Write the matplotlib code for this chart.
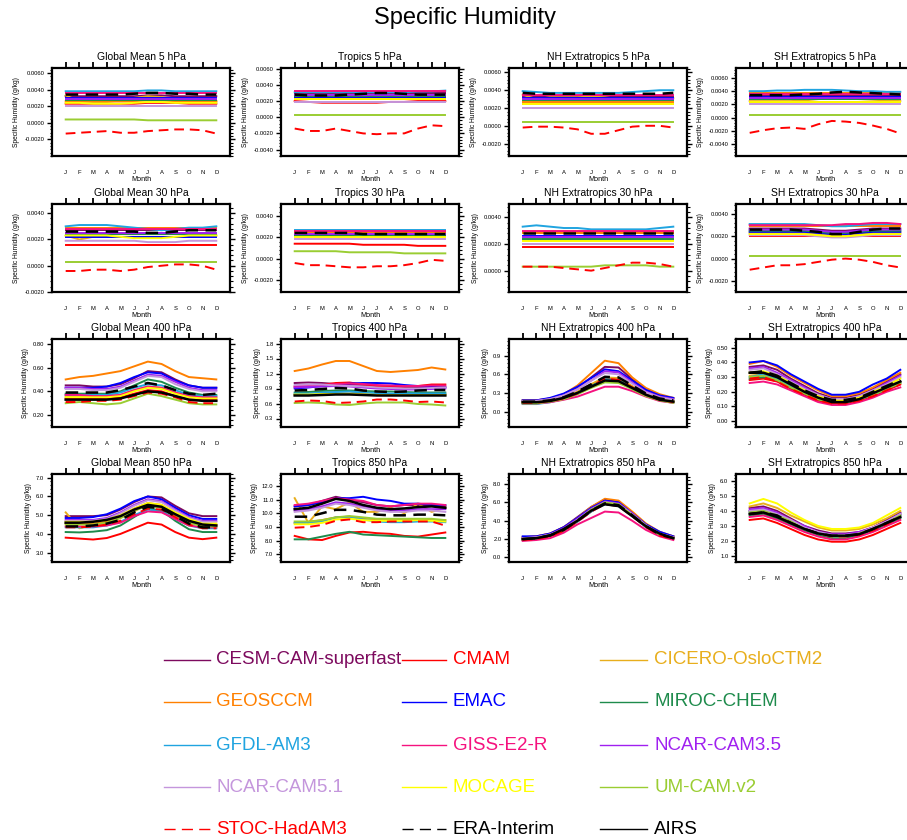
import numpy as np
import matplotlib
matplotlib.use('Agg')
import matplotlib.pyplot as plt
from matplotlib.lines import Line2D
from matplotlib.ticker import AutoMinorLocator, FormatStrFormatter

plt.rcParams['font.family'] = ['Liberation Sans', 'DejaVu Sans']
plt.rcParams['axes.unicode_minus'] = False

months = ['J', 'F', 'M', 'A', 'M', 'J', 'J', 'A', 'S', 'O', 'N', 'D']

names = ['CESM-CAM-superfast', 'CMAM', 'CICERO-OsloCTM2', 'GEOSCCM', 'EMAC', 'MIROC-CHEM',
         'GFDL-AM3', 'GISS-E2-R', 'NCAR-CAM3.5', 'NCAR-CAM5.1', 'MOCAGE', 'UM-CAM.v2',
         'STOC-HadAM3', 'ERA-Interim', 'AIRS']
keys = ['CESM', 'CMAM', 'CICERO', 'GEOS', 'EMAC', 'MIROC', 'GFDL', 'GISS',
        'CAM35', 'CAM51', 'MOCAGE', 'UM', 'STOC', 'ERA', 'AIRS']

# ---------------- 5 hPa ----------------
gm5 = {
    'CESM':   [0.0032, 0.0032, 0.0032, 0.0032, 0.0032, 0.0032, 0.0033, 0.0033, 0.0032, 0.0032, 0.0032, 0.0032],
    'CMAM':   [0.0023, 0.0023, 0.0023, 0.0023, 0.0023, 0.0023, 0.0024, 0.0024, 0.0024, 0.0023, 0.0023, 0.0023],
    'CICERO': [0.0033, 0.0026, 0.0025, 0.0025, 0.0027, 0.0030, 0.0032, 0.0031, 0.0028, 0.0026, 0.0026, 0.0026],
    'GEOS':   [0.0026, 0.0026, 0.0026, 0.0026, 0.0026, 0.0026, 0.0027, 0.0027, 0.0026, 0.0026, 0.0026, 0.0026],
    'EMAC':   [0.0030, 0.0030, 0.0030, 0.0030, 0.0030, 0.0030, 0.0030, 0.0030, 0.0030, 0.0030, 0.0030, 0.0030],
    'MIROC':  [0.0028, 0.0028, 0.0028, 0.0028, 0.0028, 0.0028, 0.0028, 0.0028, 0.0028, 0.0028, 0.0028, 0.0028],
    'GFDL':   [0.0038, 0.0038, 0.0038, 0.0038, 0.0038, 0.0038, 0.0039, 0.0039, 0.0038, 0.0038, 0.0038, 0.0038],
    'GISS':   [0.0036, 0.0036, 0.0036, 0.0036, 0.0036, 0.0036, 0.0036, 0.0036, 0.0036, 0.0036, 0.0036, 0.0036],
    'CAM35':  [0.0029, 0.0029, 0.0029, 0.0029, 0.0029, 0.0029, 0.0029, 0.0029, 0.0029, 0.0029, 0.0029, 0.0029],
    'CAM51':  [0.0020, 0.0020, 0.0020, 0.0020, 0.0020, 0.0020, 0.0020, 0.0020, 0.0020, 0.0020, 0.0020, 0.0020],
    'MOCAGE': [0.0024, 0.0024, 0.0023, 0.0023, 0.0023, 0.0024, 0.0025, 0.0025, 0.0024, 0.0024, 0.0024, 0.0024],
    'UM':     [0.0004, 0.0004, 0.0004, 0.0004, 0.0004, 0.0004, 0.0003, 0.0003, 0.0003, 0.0003, 0.0003, 0.0003],
    'STOC':   [-0.0013, -0.0012, -0.0011, -0.0010, -0.0012, -0.0012, -0.0010, -0.0009, -0.0008, -0.0008, -0.0009, -0.0013],
    'ERA':    [0.0034, 0.0034, 0.0034, 0.0034, 0.0034, 0.0035, 0.0036, 0.0036, 0.0035, 0.0035, 0.0034, 0.0034],
    'AIRS':   None,
}
tr5 = {
    'CESM':   [0.0030, 0.0030, 0.0030, 0.0030, 0.0030, 0.0030, 0.0030, 0.0030, 0.0030, 0.0030, 0.0030, 0.0030],
    'CMAM':   [0.0020, 0.0019, 0.0018, 0.0018, 0.0018, 0.0018, 0.0018, 0.0019, 0.0019, 0.0020, 0.0020, 0.0020],
    'CICERO': [0.0023, 0.0023, 0.0023, 0.0023, 0.0023, 0.0023, 0.0023, 0.0023, 0.0023, 0.0023, 0.0023, 0.0023],
    'GEOS':   [0.0024, 0.0024, 0.0024, 0.0024, 0.0024, 0.0024, 0.0024, 0.0024, 0.0024, 0.0024, 0.0024, 0.0024],
    'EMAC':   [0.0025, 0.0025, 0.0025, 0.0025, 0.0025, 0.0025, 0.0025, 0.0025, 0.0025, 0.0025, 0.0025, 0.0025],
    'MIROC':  [0.0026, 0.0026, 0.0026, 0.0026, 0.0026, 0.0026, 0.0026, 0.0026, 0.0026, 0.0026, 0.0026, 0.0026],
    'GFDL':   [0.0031, 0.0031, 0.0031, 0.0031, 0.0031, 0.0031, 0.0031, 0.0031, 0.0031, 0.0032, 0.0032, 0.0033],
    'GISS':   [0.0032, 0.0032, 0.0032, 0.0032, 0.0032, 0.0032, 0.0032, 0.0032, 0.0032, 0.0032, 0.0032, 0.0032],
    'CAM35':  [0.0027, 0.0027, 0.0027, 0.0027, 0.0027, 0.0027, 0.0027, 0.0027, 0.0027, 0.0027, 0.0027, 0.0027],
    'CAM51':  [0.0019, 0.0019, 0.0019, 0.0019, 0.0019, 0.0019, 0.0019, 0.0019, 0.0019, 0.0019, 0.0019, 0.0019],
    'MOCAGE': [0.0022, 0.0022, 0.0022, 0.0022, 0.0022, 0.0022, 0.0022, 0.0022, 0.0022, 0.0022, 0.0022, 0.0022],
    'UM':     [0.0003, 0.0003, 0.0003, 0.0003, 0.0003, 0.0003, 0.0003, 0.0003, 0.0003, 0.0003, 0.0003, 0.0003],
    'STOC':   [-0.0014, -0.0017, -0.0017, -0.0014, -0.0017, -0.0020, -0.0021, -0.0020, -0.0020, -0.0014, -0.0010, -0.0011],
    'ERA':    [0.0028, 0.0027, 0.0027, 0.0027, 0.0028, 0.0029, 0.0030, 0.0030, 0.0029, 0.0028, 0.0028, 0.0028],
    'AIRS':   None,
}
nh5 = {
    'CESM':   [0.0033, 0.0033, 0.0033, 0.0033, 0.0033, 0.0033, 0.0033, 0.0033, 0.0033, 0.0033, 0.0033, 0.0033],
    'CMAM':   [0.0024, 0.0024, 0.0024, 0.0024, 0.0024, 0.0024, 0.0024, 0.0024, 0.0024, 0.0024, 0.0024, 0.0024],
    'CICERO': [0.0035, 0.0030, 0.0032, 0.0032, 0.0032, 0.0033, 0.0032, 0.0030, 0.0030, 0.0031, 0.0031, 0.0031],
    'GEOS':   [0.0027, 0.0027, 0.0027, 0.0027, 0.0027, 0.0027, 0.0027, 0.0027, 0.0027, 0.0027, 0.0027, 0.0027],
    'EMAC':   [0.0031, 0.0031, 0.0031, 0.0031, 0.0031, 0.0031, 0.0031, 0.0031, 0.0031, 0.0031, 0.0031, 0.0031],
    'MIROC':  [0.0029, 0.0029, 0.0029, 0.0029, 0.0029, 0.0029, 0.0029, 0.0029, 0.0029, 0.0029, 0.0029, 0.0029],
    'GFDL':   [0.0039, 0.0038, 0.0037, 0.0037, 0.0037, 0.0037, 0.0037, 0.0037, 0.0038, 0.0039, 0.0040, 0.0040],
    'GISS':   [0.0035, 0.0035, 0.0035, 0.0035, 0.0035, 0.0035, 0.0035, 0.0035, 0.0035, 0.0035, 0.0035, 0.0035],
    'CAM35':  [0.0030, 0.0030, 0.0030, 0.0030, 0.0030, 0.0030, 0.0030, 0.0030, 0.0030, 0.0030, 0.0030, 0.0030],
    'CAM51':  [0.0020, 0.0020, 0.0020, 0.0020, 0.0020, 0.0020, 0.0020, 0.0020, 0.0020, 0.0020, 0.0020, 0.0020],
    'MOCAGE': [0.0025, 0.0025, 0.0025, 0.0025, 0.0025, 0.0025, 0.0025, 0.0025, 0.0025, 0.0025, 0.0025, 0.0025],
    'UM':     [0.0004, 0.0004, 0.0004, 0.0004, 0.0004, 0.0004, 0.0004, 0.0004, 0.0004, 0.0004, 0.0004, 0.0004],
    'STOC':   [-0.0002, -0.0001, -0.0001, -0.0002, -0.0004, -0.0009, -0.0009, -0.0005, -0.0001, 0.0000, 0.0000, -0.0002],
    'ERA':    [0.0037, 0.0036, 0.0036, 0.0036, 0.0036, 0.0036, 0.0036, 0.0036, 0.0036, 0.0036, 0.0036, 0.0037],
    'AIRS':   None,
}
sh5 = {
    'CESM':   [0.0032, 0.0032, 0.0032, 0.0032, 0.0032, 0.0032, 0.0032, 0.0032, 0.0032, 0.0032, 0.0032, 0.0032],
    'CMAM':   [0.0023, 0.0023, 0.0023, 0.0023, 0.0023, 0.0023, 0.0023, 0.0023, 0.0023, 0.0023, 0.0023, 0.0023],
    'CICERO': [0.0025, 0.0025, 0.0025, 0.0025, 0.0026, 0.0028, 0.0029, 0.0029, 0.0028, 0.0027, 0.0026, 0.0025],
    'GEOS':   [0.0037, 0.0037, 0.0037, 0.0037, 0.0037, 0.0037, 0.0037, 0.0037, 0.0037, 0.0037, 0.0037, 0.0037],
    'EMAC':   [0.0031, 0.0031, 0.0031, 0.0031, 0.0031, 0.0031, 0.0031, 0.0031, 0.0031, 0.0031, 0.0031, 0.0031],
    'MIROC':  [0.0028, 0.0028, 0.0028, 0.0028, 0.0028, 0.0028, 0.0028, 0.0028, 0.0028, 0.0028, 0.0028, 0.0028],
    'GFDL':   [0.0040, 0.0040, 0.0041, 0.0041, 0.0042, 0.0042, 0.0042, 0.0041, 0.0040, 0.0040, 0.0039, 0.0039],
    'GISS':   [0.0036, 0.0036, 0.0036, 0.0036, 0.0036, 0.0036, 0.0036, 0.0036, 0.0036, 0.0036, 0.0036, 0.0036],
    'CAM35':  [0.0030, 0.0030, 0.0030, 0.0030, 0.0030, 0.0030, 0.0030, 0.0030, 0.0030, 0.0030, 0.0030, 0.0030],
    'CAM51':  [0.0020, 0.0020, 0.0020, 0.0020, 0.0020, 0.0020, 0.0020, 0.0020, 0.0020, 0.0020, 0.0020, 0.0020],
    'MOCAGE': [0.0024, 0.0024, 0.0024, 0.0024, 0.0024, 0.0024, 0.0024, 0.0024, 0.0024, 0.0024, 0.0024, 0.0024],
    'UM':     [0.0004, 0.0004, 0.0004, 0.0004, 0.0004, 0.0004, 0.0004, 0.0004, 0.0004, 0.0004, 0.0004, 0.0004],
    'STOC':   [-0.0023, -0.0019, -0.0016, -0.0015, -0.0017, -0.0010, -0.0005, -0.0006, -0.0008, -0.0012, -0.0017, -0.0024],
    'ERA':    [0.0034, 0.0034, 0.0034, 0.0034, 0.0035, 0.0036, 0.0038, 0.0039, 0.0038, 0.0037, 0.0036, 0.0035],
    'AIRS':   None,
}

# ---------------- 30 hPa ----------------
gm30 = {
    'CESM':   [0.0027, 0.0027, 0.0027, 0.0027, 0.0027, 0.0027, 0.0027, 0.0027, 0.0027, 0.0027, 0.0027, 0.0027],
    'CMAM':   [0.0016, 0.0016, 0.0016, 0.0016, 0.0016, 0.0016, 0.0016, 0.0016, 0.0016, 0.0016, 0.0016, 0.0016],
    'CICERO': [0.0023, 0.0020, 0.0022, 0.0022, 0.0022, 0.0022, 0.0022, 0.0022, 0.0022, 0.0022, 0.0022, 0.0023],
    'GEOS':   [0.0029, 0.0029, 0.0029, 0.0029, 0.0029, 0.0029, 0.0029, 0.0029, 0.0029, 0.0029, 0.0029, 0.0029],
    'EMAC':   [0.0022, 0.0022, 0.0022, 0.0022, 0.0022, 0.0022, 0.0022, 0.0022, 0.0022, 0.0022, 0.0022, 0.0022],
    'MIROC':  [0.0024, 0.0024, 0.0024, 0.0024, 0.0024, 0.0024, 0.0024, 0.0024, 0.0024, 0.0024, 0.0024, 0.0024],
    'GFDL':   [0.0030, 0.0031, 0.0031, 0.0031, 0.0030, 0.0029, 0.0028, 0.0027, 0.0028, 0.0029, 0.0029, 0.0030],
    'GISS':   [0.0028, 0.0028, 0.0028, 0.0028, 0.0028, 0.0028, 0.0028, 0.0028, 0.0028, 0.0028, 0.0028, 0.0028],
    'CAM35':  [0.0025, 0.0025, 0.0025, 0.0025, 0.0025, 0.0025, 0.0025, 0.0025, 0.0025, 0.0025, 0.0025, 0.0025],
    'CAM51':  [0.0019, 0.0019, 0.0019, 0.0019, 0.0019, 0.0019, 0.0018, 0.0018, 0.0018, 0.0019, 0.0019, 0.0019],
    'MOCAGE': [0.0023, 0.0023, 0.0023, 0.0023, 0.0022, 0.0021, 0.0021, 0.0021, 0.0022, 0.0023, 0.0023, 0.0023],
    'UM':     [0.0003, 0.0003, 0.0003, 0.0003, 0.0003, 0.0003, 0.0003, 0.0003, 0.0003, 0.0003, 0.0003, 0.0003],
    'STOC':   [-0.0004, -0.0004, -0.0003, -0.0003, -0.0004, -0.0003, -0.0001, 0.0000, 0.0001, 0.0001, 0.0000, -0.0003],
    'ERA':    [0.0026, 0.0026, 0.0026, 0.0026, 0.0026, 0.0026, 0.0025, 0.0025, 0.0026, 0.0027, 0.0027, 0.0027],
    'AIRS':   None,
}
tr30 = {
    'CESM':   [0.0025, 0.0025, 0.0025, 0.0025, 0.0025, 0.0025, 0.0025, 0.0025, 0.0025, 0.0025, 0.0025, 0.0025],
    'CMAM':   [0.0014, 0.0014, 0.0014, 0.0014, 0.0014, 0.0013, 0.0013, 0.0013, 0.0013, 0.0012, 0.0012, 0.0012],
    'CICERO': [0.0022, 0.0022, 0.0022, 0.0022, 0.0022, 0.0022, 0.0022, 0.0022, 0.0022, 0.0022, 0.0022, 0.0022],
    'GEOS':   [0.0025, 0.0025, 0.0025, 0.0025, 0.0025, 0.0025, 0.0025, 0.0025, 0.0025, 0.0025, 0.0025, 0.0025],
    'EMAC':   [0.0022, 0.0022, 0.0022, 0.0022, 0.0022, 0.0022, 0.0022, 0.0022, 0.0022, 0.0022, 0.0022, 0.0022],
    'MIROC':  [0.0021, 0.0021, 0.0021, 0.0021, 0.0021, 0.0021, 0.0021, 0.0021, 0.0021, 0.0021, 0.0021, 0.0021],
    'GFDL':   [0.0027, 0.0027, 0.0027, 0.0027, 0.0027, 0.0027, 0.0027, 0.0027, 0.0027, 0.0027, 0.0027, 0.0027],
    'GISS':   [0.0026, 0.0026, 0.0026, 0.0026, 0.0026, 0.0026, 0.0026, 0.0026, 0.0026, 0.0026, 0.0026, 0.0026],
    'CAM35':  [0.0023, 0.0023, 0.0023, 0.0023, 0.0023, 0.0023, 0.0023, 0.0023, 0.0023, 0.0023, 0.0023, 0.0023],
    'CAM51':  [0.0018, 0.0018, 0.0018, 0.0018, 0.0018, 0.0018, 0.0018, 0.0018, 0.0018, 0.0018, 0.0018, 0.0018],
    'MOCAGE': [0.0020, 0.0020, 0.0020, 0.0020, 0.0020, 0.0020, 0.0020, 0.0020, 0.0020, 0.0020, 0.0020, 0.0020],
    'UM':     [0.0007, 0.0007, 0.0007, 0.0007, 0.0006, 0.0006, 0.0006, 0.0006, 0.0005, 0.0005, 0.0005, 0.0005],
    'STOC':   [-0.0004, -0.0006, -0.0006, -0.0007, -0.0008, -0.0008, -0.0007, -0.0007, -0.0006, -0.0004, -0.0001, -0.0002],
    'ERA':    [0.0024, 0.0024, 0.0024, 0.0024, 0.0024, 0.0023, 0.0023, 0.0023, 0.0023, 0.0023, 0.0023, 0.0023],
    'AIRS':   None,
}
nh30 = {
    'CESM':   [0.0029, 0.0029, 0.0029, 0.0029, 0.0029, 0.0029, 0.0029, 0.0029, 0.0029, 0.0029, 0.0029, 0.0029],
    'CMAM':   [0.0018, 0.0018, 0.0018, 0.0018, 0.0018, 0.0018, 0.0018, 0.0018, 0.0018, 0.0018, 0.0018, 0.0018],
    'CICERO': [0.0023, 0.0023, 0.0023, 0.0023, 0.0023, 0.0023, 0.0023, 0.0023, 0.0023, 0.0023, 0.0023, 0.0023],
    'GEOS':   [0.0028, 0.0028, 0.0028, 0.0028, 0.0028, 0.0028, 0.0028, 0.0028, 0.0028, 0.0028, 0.0028, 0.0028],
    'EMAC':   [0.0026, 0.0026, 0.0026, 0.0026, 0.0026, 0.0026, 0.0026, 0.0026, 0.0026, 0.0026, 0.0026, 0.0026],
    'MIROC':  [0.0024, 0.0024, 0.0024, 0.0024, 0.0024, 0.0024, 0.0024, 0.0024, 0.0024, 0.0024, 0.0024, 0.0024],
    'GFDL':   [0.0033, 0.0034, 0.0033, 0.0032, 0.0032, 0.0031, 0.0031, 0.0031, 0.0031, 0.0031, 0.0032, 0.0033],
    'GISS':   [0.0030, 0.0030, 0.0030, 0.0030, 0.0030, 0.0030, 0.0030, 0.0030, 0.0030, 0.0030, 0.0030, 0.0030],
    'CAM35':  [0.0025, 0.0025, 0.0025, 0.0025, 0.0025, 0.0025, 0.0025, 0.0025, 0.0025, 0.0025, 0.0025, 0.0025],
    'CAM51':  [0.0020, 0.0020, 0.0020, 0.0020, 0.0020, 0.0020, 0.0020, 0.0020, 0.0020, 0.0020, 0.0020, 0.0020],
    'MOCAGE': [0.0022, 0.0022, 0.0022, 0.0022, 0.0022, 0.0022, 0.0022, 0.0022, 0.0022, 0.0022, 0.0022, 0.0022],
    'UM':     [0.0003, 0.0003, 0.0003, 0.0003, 0.0003, 0.0003, 0.0004, 0.0004, 0.0004, 0.0004, 0.0003, 0.0003],
    'STOC':   [0.0003, 0.0003, 0.0003, 0.0002, 0.0001, 0.0000, 0.0002, 0.0004, 0.0006, 0.0006, 0.0005, 0.0003],
    'ERA':    [0.0028, 0.0028, 0.0028, 0.0028, 0.0028, 0.0028, 0.0028, 0.0028, 0.0028, 0.0028, 0.0028, 0.0028],
    'AIRS':   None,
}
sh30 = {
    'CESM':   [0.0027, 0.0027, 0.0027, 0.0027, 0.0027, 0.0026, 0.0025, 0.0025, 0.0026, 0.0027, 0.0027, 0.0027],
    'CMAM':   [0.0020, 0.0020, 0.0020, 0.0020, 0.0020, 0.0020, 0.0020, 0.0020, 0.0020, 0.0020, 0.0020, 0.0020],
    'CICERO': [0.0023, 0.0023, 0.0023, 0.0023, 0.0023, 0.0022, 0.0021, 0.0021, 0.0022, 0.0023, 0.0023, 0.0023],
    'GEOS':   [0.0029, 0.0029, 0.0029, 0.0029, 0.0029, 0.0029, 0.0029, 0.0029, 0.0029, 0.0029, 0.0029, 0.0029],
    'EMAC':   [0.0024, 0.0024, 0.0024, 0.0024, 0.0024, 0.0023, 0.0022, 0.0022, 0.0023, 0.0024, 0.0024, 0.0024],
    'MIROC':  [0.0025, 0.0025, 0.0025, 0.0025, 0.0025, 0.0024, 0.0023, 0.0023, 0.0024, 0.0025, 0.0025, 0.0025],
    'GFDL':   [0.0031, 0.0031, 0.0031, 0.0031, 0.0031, 0.0030, 0.0029, 0.0029, 0.0030, 0.0031, 0.0031, 0.0031],
    'GISS':   [0.0030, 0.0030, 0.0030, 0.0030, 0.0030, 0.0030, 0.0030, 0.0031, 0.0031, 0.0032, 0.0032, 0.0031],
    'CAM35':  [0.0026, 0.0026, 0.0026, 0.0026, 0.0026, 0.0025, 0.0024, 0.0024, 0.0025, 0.0026, 0.0026, 0.0026],
    'CAM51':  [0.0021, 0.0021, 0.0021, 0.0021, 0.0021, 0.0020, 0.0019, 0.0019, 0.0020, 0.0021, 0.0021, 0.0021],
    'MOCAGE': [0.0022, 0.0022, 0.0022, 0.0022, 0.0022, 0.0021, 0.0020, 0.0020, 0.0021, 0.0022, 0.0022, 0.0022],
    'UM':     [0.0002, 0.0002, 0.0002, 0.0002, 0.0002, 0.0002, 0.0002, 0.0002, 0.0002, 0.0002, 0.0002, 0.0002],
    'STOC':   [-0.0010, -0.0008, -0.0006, -0.0006, -0.0005, -0.0003, -0.0001, 0.0000, -0.0001, -0.0003, -0.0006, -0.0008],
    'ERA':    [0.0026, 0.0026, 0.0026, 0.0026, 0.0025, 0.0024, 0.0022, 0.0022, 0.0024, 0.0026, 0.0027, 0.0027],
    'AIRS':   None,
}

# ---------------- 400 hPa ----------------
gm400 = {
    'CESM':   [0.45, 0.45, 0.44, 0.44, 0.46, 0.51, 0.57, 0.56, 0.50, 0.45, 0.43, 0.43],
    'CMAM':   [0.34, 0.34, 0.34, 0.34, 0.35, 0.38, 0.41, 0.40, 0.36, 0.33, 0.33, 0.33],
    'CICERO': [0.36, 0.36, 0.36, 0.36, 0.37, 0.41, 0.44, 0.43, 0.39, 0.36, 0.35, 0.35],
    'GEOS':   [0.50, 0.52, 0.53, 0.55, 0.57, 0.61, 0.65, 0.63, 0.57, 0.52, 0.51, 0.50],
    'EMAC':   [0.43, 0.43, 0.43, 0.44, 0.47, 0.52, 0.56, 0.55, 0.49, 0.45, 0.43, 0.43],
    'MIROC':  [0.38, 0.38, 0.38, 0.38, 0.40, 0.45, 0.50, 0.48, 0.43, 0.39, 0.37, 0.37],
    'GFDL':   [0.37, 0.37, 0.37, 0.37, 0.39, 0.43, 0.46, 0.45, 0.41, 0.37, 0.36, 0.36],
    'GISS':   [0.37, 0.37, 0.36, 0.36, 0.37, 0.41, 0.44, 0.43, 0.39, 0.36, 0.35, 0.35],
    'CAM35':  [0.43, 0.43, 0.42, 0.42, 0.44, 0.49, 0.54, 0.53, 0.48, 0.43, 0.41, 0.41],
    'CAM51':  [0.42, 0.42, 0.41, 0.41, 0.43, 0.48, 0.53, 0.52, 0.46, 0.42, 0.40, 0.40],
    'MOCAGE': [0.35, 0.35, 0.35, 0.35, 0.36, 0.40, 0.43, 0.42, 0.38, 0.35, 0.34, 0.34],
    'UM':     [0.30, 0.31, 0.30, 0.29, 0.30, 0.34, 0.38, 0.36, 0.33, 0.30, 0.29, 0.29],
    'STOC':   [0.31, 0.31, 0.32, 0.32, 0.33, 0.36, 0.39, 0.38, 0.35, 0.31, 0.30, 0.30],
    'ERA':    [0.39, 0.39, 0.39, 0.39, 0.41, 0.44, 0.47, 0.45, 0.41, 0.38, 0.37, 0.38],
    'AIRS':   [0.33, 0.33, 0.33, 0.33, 0.34, 0.37, 0.40, 0.39, 0.36, 0.33, 0.32, 0.32],
}
tr400 = {
    'CESM':   [1.01, 1.02, 1.01, 0.99, 0.98, 0.97, 0.95, 0.94, 0.93, 0.92, 0.92, 0.93],
    'CMAM':   [0.93, 0.95, 0.97, 1.01, 1.02, 0.98, 0.95, 0.94, 0.94, 0.95, 0.98, 0.98],
    'CICERO': [0.78, 0.80, 0.81, 0.83, 0.84, 0.80, 0.79, 0.78, 0.78, 0.78, 0.79, 0.79],
    'GEOS':   [1.25, 1.30, 1.38, 1.45, 1.45, 1.35, 1.25, 1.23, 1.25, 1.27, 1.32, 1.28],
    'EMAC':   [0.90, 0.92, 0.95, 0.97, 1.00, 1.01, 1.01, 1.00, 0.97, 0.95, 0.93, 0.92],
    'MIROC':  [0.82, 0.83, 0.85, 0.86, 0.86, 0.85, 0.84, 0.84, 0.83, 0.82, 0.82, 0.82],
    'GFDL':   [0.80, 0.80, 0.82, 0.83, 0.84, 0.82, 0.81, 0.80, 0.80, 0.80, 0.80, 0.80],
    'GISS':   [0.95, 0.96, 0.97, 0.99, 1.00, 0.99, 0.97, 0.96, 0.95, 0.95, 0.96, 0.96],
    'CAM35':  [0.92, 0.93, 0.94, 0.95, 0.94, 0.92, 0.90, 0.89, 0.88, 0.88, 0.89, 0.90],
    'CAM51':  [0.97, 0.98, 0.98, 0.96, 0.95, 0.94, 0.92, 0.91, 0.90, 0.90, 0.91, 0.92],
    'MOCAGE': [0.78, 0.78, 0.79, 0.79, 0.79, 0.78, 0.77, 0.77, 0.77, 0.77, 0.77, 0.77],
    'UM':     [0.61, 0.62, 0.61, 0.58, 0.57, 0.60, 0.62, 0.62, 0.62, 0.59, 0.58, 0.56],
    'STOC':   [0.64, 0.66, 0.65, 0.61, 0.62, 0.64, 0.68, 0.68, 0.66, 0.63, 0.64, 0.62],
    'ERA':    [0.86, 0.87, 0.89, 0.91, 0.90, 0.86, 0.84, 0.83, 0.84, 0.86, 0.87, 0.87],
    'AIRS':   [0.76, 0.76, 0.77, 0.78, 0.78, 0.77, 0.76, 0.76, 0.76, 0.76, 0.76, 0.76],
}
nh400 = {
    'CESM':   [0.18, 0.18, 0.21, 0.27, 0.38, 0.55, 0.72, 0.71, 0.52, 0.35, 0.26, 0.21],
    'CMAM':   [0.15, 0.15, 0.18, 0.22, 0.31, 0.43, 0.55, 0.52, 0.40, 0.28, 0.20, 0.16],
    'CICERO': [0.15, 0.15, 0.18, 0.23, 0.32, 0.44, 0.55, 0.54, 0.41, 0.28, 0.20, 0.16],
    'GEOS':   [0.18, 0.18, 0.21, 0.28, 0.42, 0.62, 0.82, 0.78, 0.55, 0.38, 0.28, 0.22],
    'EMAC':   [0.18, 0.18, 0.22, 0.29, 0.40, 0.54, 0.68, 0.65, 0.50, 0.35, 0.26, 0.22],
    'MIROC':  [0.15, 0.15, 0.17, 0.22, 0.30, 0.41, 0.52, 0.50, 0.38, 0.27, 0.19, 0.16],
    'GFDL':   [0.12, 0.12, 0.15, 0.20, 0.28, 0.40, 0.52, 0.50, 0.38, 0.26, 0.18, 0.14],
    'GISS':   [0.13, 0.13, 0.15, 0.19, 0.24, 0.32, 0.40, 0.40, 0.33, 0.24, 0.17, 0.14],
    'CAM35':  [0.17, 0.17, 0.20, 0.26, 0.36, 0.50, 0.65, 0.63, 0.47, 0.32, 0.24, 0.20],
    'CAM51':  [0.17, 0.17, 0.20, 0.26, 0.36, 0.50, 0.62, 0.60, 0.45, 0.31, 0.23, 0.19],
    'MOCAGE': [0.15, 0.15, 0.17, 0.21, 0.29, 0.39, 0.48, 0.47, 0.37, 0.26, 0.19, 0.16],
    'UM':     [0.13, 0.13, 0.16, 0.20, 0.28, 0.38, 0.47, 0.46, 0.36, 0.25, 0.18, 0.14],
    'STOC':   [0.14, 0.14, 0.17, 0.21, 0.29, 0.41, 0.53, 0.51, 0.39, 0.27, 0.19, 0.15],
    'ERA':    [0.16, 0.16, 0.18, 0.23, 0.32, 0.44, 0.56, 0.55, 0.42, 0.29, 0.21, 0.18],
    'AIRS':   [0.15, 0.15, 0.17, 0.22, 0.30, 0.40, 0.50, 0.49, 0.38, 0.27, 0.19, 0.16],
}
sh400 = {
    'CESM':   [0.37, 0.38, 0.35, 0.29, 0.24, 0.19, 0.16, 0.16, 0.18, 0.22, 0.27, 0.32],
    'CMAM':   [0.28, 0.29, 0.27, 0.22, 0.18, 0.14, 0.12, 0.12, 0.14, 0.17, 0.21, 0.25],
    'CICERO': [0.31, 0.32, 0.29, 0.24, 0.19, 0.15, 0.13, 0.13, 0.15, 0.18, 0.22, 0.27],
    'GEOS':   [0.39, 0.41, 0.37, 0.31, 0.26, 0.21, 0.17, 0.17, 0.19, 0.23, 0.28, 0.33],
    'EMAC':   [0.40, 0.41, 0.38, 0.32, 0.27, 0.22, 0.18, 0.18, 0.20, 0.25, 0.29, 0.35],
    'MIROC':  [0.29, 0.30, 0.28, 0.23, 0.19, 0.15, 0.13, 0.13, 0.15, 0.18, 0.22, 0.26],
    'GFDL':   [0.30, 0.32, 0.29, 0.24, 0.20, 0.16, 0.13, 0.13, 0.15, 0.18, 0.22, 0.27],
    'GISS':   [0.26, 0.27, 0.25, 0.21, 0.17, 0.13, 0.11, 0.11, 0.13, 0.16, 0.20, 0.23],
    'CAM35':  [0.36, 0.37, 0.33, 0.28, 0.23, 0.18, 0.15, 0.15, 0.17, 0.21, 0.26, 0.31],
    'CAM51':  [0.35, 0.36, 0.32, 0.27, 0.22, 0.18, 0.15, 0.15, 0.17, 0.21, 0.25, 0.30],
    'MOCAGE': [0.33, 0.34, 0.31, 0.26, 0.21, 0.17, 0.14, 0.14, 0.16, 0.20, 0.24, 0.29],
    'UM':     [0.30, 0.31, 0.28, 0.23, 0.19, 0.15, 0.13, 0.13, 0.15, 0.18, 0.22, 0.26],
    'STOC':   [0.29, 0.30, 0.27, 0.22, 0.18, 0.14, 0.12, 0.12, 0.14, 0.17, 0.21, 0.25],
    'ERA':    [0.33, 0.34, 0.31, 0.26, 0.21, 0.17, 0.145, 0.145, 0.16, 0.20, 0.24, 0.28],
    'AIRS':   [0.33, 0.33, 0.30, 0.25, 0.20, 0.16, 0.13, 0.13, 0.15, 0.19, 0.23, 0.27],
}

# ---------------- 850 hPa ----------------
gm850 = {
    'CESM':   [4.95, 4.95, 4.95, 5.00, 5.30, 5.70, 6.00, 5.95, 5.50, 5.10, 4.95, 4.95],
    'CMAM':   [3.80, 3.75, 3.70, 3.78, 4.00, 4.30, 4.60, 4.50, 4.10, 3.80, 3.72, 3.80],
    'CICERO': [5.15, 4.30, 4.50, 4.60, 4.85, 5.20, 5.60, 5.40, 5.00, 4.75, 4.45, 4.45],
    'GEOS':   [4.55, 4.55, 4.55, 4.65, 4.95, 5.35, 5.65, 5.55, 5.10, 4.70, 4.50, 4.50],
    'EMAC':   [4.85, 4.85, 4.90, 5.05, 5.35, 5.75, 6.00, 5.85, 5.40, 5.00, 4.80, 4.80],
    'MIROC':  [4.10, 4.08, 4.12, 4.20, 4.45, 4.90, 5.35, 5.25, 4.70, 4.25, 4.10, 4.10],
    'GFDL':   [4.35, 4.35, 4.35, 4.45, 4.65, 5.00, 5.30, 5.20, 4.80, 4.45, 4.30, 4.30],
    'GISS':   [4.40, 4.40, 4.40, 4.45, 4.60, 4.95, 5.20, 5.15, 4.80, 4.45, 4.35, 4.35],
    'CAM35':  [4.75, 4.75, 4.75, 4.85, 5.15, 5.55, 5.85, 5.75, 5.30, 4.90, 4.70, 4.70],
    'CAM51':  [4.70, 4.70, 4.70, 4.80, 5.10, 5.50, 5.80, 5.70, 5.25, 4.85, 4.65, 4.65],
    'MOCAGE': [4.65, 4.65, 4.65, 4.75, 5.00, 5.35, 5.65, 5.55, 5.15, 4.80, 4.55, 4.55],
    'UM':     [4.50, 4.50, 4.50, 4.60, 4.85, 5.25, 5.50, 5.40, 5.00, 4.60, 4.40, 4.40],
    'STOC':   [4.35, 4.35, 4.40, 4.50, 4.70, 5.05, 5.35, 5.30, 4.90, 4.50, 4.30, 4.30],
    'ERA':    [4.40, 4.40, 4.45, 4.55, 4.75, 5.15, 5.45, 5.35, 4.95, 4.55, 4.35, 4.35],
    'AIRS':   [4.60, 4.60, 4.65, 4.75, 4.95, 5.30, 5.55, 5.45, 5.05, 4.70, 4.50, 4.45],
}
tr850 = {
    'CESM':   [10.5, 10.6, 10.9, 11.2, 11.0, 10.8, 10.6, 10.5, 10.6, 10.6, 10.6, 10.5],
    'CMAM':   [8.35, 8.10, 8.05, 8.35, 8.60, 8.65, 8.55, 8.50, 8.35, 8.30, 8.45, 8.60],
    'CICERO': [11.1, 9.30, 10.5, 10.3, 10.8, 10.1, 10.1, 10.4, 10.0, 10.7, 10.1, 10.4],
    'GEOS':   [9.30, 9.35, 9.50, 9.70, 9.75, 9.60, 9.50, 9.50, 9.50, 9.55, 9.50, 9.50],
    'EMAC':   [10.5, 10.6, 10.8, 11.1, 11.1, 11.2, 11.0, 10.9, 10.7, 10.7, 10.6, 10.6],
    'MIROC':  [8.10, 8.10, 8.30, 8.50, 8.65, 8.45, 8.40, 8.35, 8.30, 8.25, 8.20, 8.20],
    'GFDL':   [9.30, 9.30, 9.40, 9.70, 9.75, 9.55, 9.40, 9.35, 9.35, 9.40, 9.40, 9.35],
    'GISS':   [10.6, 10.7, 10.9, 11.1, 11.0, 10.9, 10.6, 10.5, 10.6, 10.7, 10.7, 10.6],
    'CAM35':  [10.2, 10.3, 10.5, 10.8, 10.7, 10.5, 10.3, 10.2, 10.2, 10.3, 10.3, 10.3],
    'CAM51':  [10.1, 10.2, 10.4, 10.7, 10.6, 10.4, 10.2, 10.1, 10.1, 10.2, 10.2, 10.1],
    'MOCAGE': [9.20, 9.20, 9.30, 9.55, 9.60, 9.50, 9.45, 9.45, 9.45, 9.50, 9.45, 9.40],
    'UM':     [9.40, 9.40, 9.50, 9.70, 9.80, 9.70, 9.60, 9.60, 9.60, 9.60, 9.60, 9.50],
    'STOC':   [8.95, 9.00, 9.15, 9.45, 9.55, 9.35, 9.35, 9.40, 9.40, 9.40, 9.40, 9.10],
    'ERA':    [9.75, 9.75, 10.0, 10.25, 10.25, 10.1, 9.90, 9.85, 9.85, 9.90, 9.90, 9.85],
    'AIRS':   [10.3, 10.4, 10.7, 11.05, 10.9, 10.6, 10.4, 10.3, 10.35, 10.45, 10.5, 10.4],
}
nh850 = {
    'CESM':   [2.2, 2.3, 2.6, 3.3, 4.4, 5.5, 6.3, 6.1, 4.9, 3.6, 2.7, 2.3],
    'CMAM':   [1.9, 2.0, 2.3, 2.9, 3.9, 5.0, 5.9, 5.7, 4.6, 3.3, 2.4, 2.0],
    'CICERO': [2.1, 2.2, 2.5, 3.1, 4.1, 5.2, 6.0, 5.8, 4.7, 3.5, 2.6, 2.2],
    'GEOS':   [2.2, 2.3, 2.6, 3.3, 4.3, 5.5, 6.4, 6.2, 5.0, 3.7, 2.8, 2.3],
    'EMAC':   [2.3, 2.3, 2.6, 3.3, 4.3, 5.4, 6.2, 6.0, 4.8, 3.6, 2.8, 2.3],
    'MIROC':  [2.0, 2.1, 2.4, 3.0, 4.0, 5.1, 5.9, 5.7, 4.6, 3.4, 2.5, 2.1],
    'GFDL':   [2.0, 2.1, 2.4, 3.0, 3.9, 5.0, 5.8, 5.6, 4.5, 3.3, 2.5, 2.1],
    'GISS':   [1.8, 1.9, 2.1, 2.7, 3.6, 4.3, 5.0, 4.9, 4.0, 3.0, 2.3, 1.9],
    'CAM35':  [2.1, 2.2, 2.5, 3.2, 4.2, 5.3, 6.1, 5.9, 4.8, 3.5, 2.6, 2.2],
    'CAM51':  [2.1, 2.2, 2.5, 3.1, 4.1, 5.2, 6.0, 5.8, 4.7, 3.5, 2.6, 2.2],
    'MOCAGE': [2.0, 2.1, 2.4, 3.0, 4.0, 5.1, 5.9, 5.7, 4.6, 3.4, 2.5, 2.1],
    'UM':     [2.0, 2.1, 2.4, 3.0, 4.0, 5.2, 6.0, 5.8, 4.6, 3.4, 2.5, 2.1],
    'STOC':   [1.9, 2.0, 2.3, 2.9, 3.9, 5.0, 5.8, 5.6, 4.5, 3.3, 2.4, 2.0],
    'ERA':    [2.0, 2.1, 2.4, 3.0, 4.0, 5.1, 5.9, 5.7, 4.6, 3.4, 2.5, 2.1],
    'AIRS':   [2.0, 2.1, 2.4, 3.1, 4.0, 5.1, 5.8, 5.6, 4.5, 3.4, 2.6, 2.1],
}
sh850 = {
    'CESM':   [4.2, 4.3, 4.0, 3.5, 3.0, 2.7, 2.5, 2.5, 2.6, 2.9, 3.4, 3.9],
    'CMAM':   [3.4, 3.5, 3.2, 2.8, 2.4, 2.1, 1.95, 1.95, 2.1, 2.4, 2.8, 3.2],
    'CICERO': [4.3, 4.5, 4.2, 3.7, 3.3, 2.9, 2.7, 2.7, 2.8, 3.1, 3.5, 4.0],
    'GEOS':   [4.0, 4.1, 3.8, 3.4, 2.9, 2.6, 2.4, 2.4, 2.5, 2.9, 3.3, 3.8],
    'EMAC':   [4.0, 4.1, 3.8, 3.3, 2.9, 2.6, 2.4, 2.4, 2.5, 2.8, 3.3, 3.8],
    'MIROC':  [3.7, 3.8, 3.5, 3.1, 2.7, 2.4, 2.2, 2.2, 2.4, 2.7, 3.1, 3.5],
    'GFDL':   [3.9, 4.0, 3.7, 3.2, 2.8, 2.5, 2.3, 2.3, 2.5, 2.8, 3.2, 3.7],
    'GISS':   [3.6, 3.7, 3.4, 3.0, 2.6, 2.3, 2.1, 2.1, 2.3, 2.6, 3.0, 3.4],
    'CAM35':  [4.1, 4.2, 3.9, 3.4, 3.0, 2.6, 2.45, 2.45, 2.6, 2.9, 3.3, 3.8],
    'CAM51':  [4.0, 4.1, 3.8, 3.4, 2.9, 2.6, 2.4, 2.4, 2.5, 2.9, 3.3, 3.8],
    'MOCAGE': [4.5, 4.8, 4.5, 3.9, 3.4, 3.0, 2.8, 2.8, 2.9, 3.2, 3.7, 4.2],
    'UM':     [3.9, 4.0, 3.7, 3.3, 2.8, 2.5, 2.3, 2.3, 2.5, 2.8, 3.2, 3.7],
    'STOC':   [3.8, 3.9, 3.6, 3.2, 2.8, 2.5, 2.3, 2.3, 2.4, 2.7, 3.1, 3.6],
    'ERA':    [3.8, 3.9, 3.7, 3.2, 2.8, 2.5, 2.35, 2.35, 2.45, 2.8, 3.2, 3.6],
    'AIRS':   [3.8, 3.9, 3.6, 3.2, 2.8, 2.5, 2.35, 2.35, 2.45, 2.8, 3.2, 3.6],
}

panels = [gm5, tr5, nh5, sh5, gm30, tr30, nh30, sh30,
          gm400, tr400, nh400, sh400, gm850, tr850, nh850, sh850]
titles = ['Global Mean 5 hPa', 'Tropics 5 hPa', 'NH Extratropics 5 hPa', 'SH Extratropics 5 hPa',
          'Global Mean 30 hPa', 'Tropics 30 hPa', 'NH Extratropics 30 hPa', 'SH Extratropics 30 hPa',
          'Global Mean 400 hPa', 'Tropics 400 hPa', 'NH Extratropics 400 hPa', 'SH Extratropics 400 hPa',
          'Global Mean 850 hPa', 'Tropics 850 hPa', 'NH Extratropics 850 hPa', 'SH Extratropics 850 hPa']
ylims = [(-0.0040, 0.0066), (-0.0048, 0.0061), (-0.0034, 0.0065), (-0.0058, 0.0075),
         (-0.0020, 0.0047), (-0.0031, 0.0051), (-0.0016, 0.0050), (-0.0030, 0.0049),
         (0.10, 0.84), (0.13, 1.89), (-0.25, 1.17), (-0.04, 0.56),
         (2.5, 7.2), (6.45, 12.86), (-0.5, 9.1), (0.6, 6.46)]
yticks = [[-0.002, 0.0, 0.002, 0.004, 0.006], [-0.004, -0.002, 0.0, 0.002, 0.004, 0.006],
          [-0.002, 0.0, 0.002, 0.004, 0.006], [-0.004, -0.002, 0.0, 0.002, 0.004, 0.006],
          [-0.002, 0.0, 0.002, 0.004], [-0.002, 0.0, 0.002, 0.004],
          [0.0, 0.002, 0.004], [-0.002, 0.0, 0.002, 0.004],
          [0.2, 0.4, 0.6, 0.8], [0.3, 0.6, 0.9, 1.2, 1.5, 1.8],
          [0.0, 0.3, 0.6, 0.9], [0.0, 0.1, 0.2, 0.3, 0.4, 0.5],
          [3, 4, 5, 6, 7], [7, 8, 9, 10, 11, 12], [0, 2, 4, 6, 8], [1, 2, 3, 4, 5, 6]]
yfmts = ['%.4f'] * 8 + ['%.2f', '%.1f', '%.1f', '%.2f'] + ['%.1f'] * 4

colors = {'CESM': '#7D0A5E', 'CMAM': '#FF0000', 'CICERO': '#E8AE1C', 'GEOS': '#FF8000',
          'EMAC': '#0000FF', 'MIROC': '#1E8B4C', 'GFDL': '#20A4E0', 'GISS': '#F5127F',
          'CAM35': '#A020F0', 'CAM51': '#C496DC', 'MOCAGE': '#FFFF00', 'UM': '#9ACD32',
          'STOC': '#FF0000', 'ERA': '#000000', 'AIRS': '#000000'}
dashed = {'STOC', 'ERA'}

W, H = 907, 840
fig = plt.figure(figsize=(W / 100, H / 100), dpi=100)
fig.text(465 / W, 1 - 18 / H, 'Specific Humidity', ha='center', va='center', fontsize=17)

col_left = [52, 281, 509, 736]
row_top = [68, 204, 339, 474]
aw, ah = 178, 88
x = np.arange(12)

for i, data in enumerate(panels):
    r, c = divmod(i, 4)
    ax = fig.add_axes([col_left[c] / W, 1 - (row_top[r] + ah) / H, aw / W, ah / H])
    for k in keys:
        v = data[k]
        if v is None:
            continue
        ls = (0, (5, 3)) if k in dashed else '-'
        lw = 1.8 if k in ('AIRS', 'ERA') else 1.4
        ax.plot(x, v, color=colors[k], ls=ls, lw=lw)
    ax.set_xlim(-1, 12)
    ax.set_ylim(*ylims[i])
    ax.set_yticks(yticks[i])
    ax.yaxis.set_major_formatter(FormatStrFormatter(yfmts[i]))
    ax.yaxis.set_minor_locator(AutoMinorLocator(5))
    ax.set_xticks(x)
    ax.set_xticklabels(months)
    ax.tick_params(axis='x', which='major', top=True, bottom=False, direction='out',
                   length=4, width=1.3, labelsize=4.2, pad=6)
    ax.tick_params(axis='y', which='major', left=True, right=True, direction='out',
                   length=3.5, width=1.0, labelsize=4.2, pad=2)
    ax.tick_params(axis='y', which='minor', left=True, right=True, direction='out',
                   length=1.8, width=0.8)
    for s in ax.spines.values():
        s.set_linewidth(1.6)
    ax.set_title(titles[i], fontsize=7.5, pad=6)
    ax.set_xlabel('Month', fontsize=5.2, labelpad=1)
    ax.set_ylabel('Specific Humidity (g/kg)', fontsize=4.8, labelpad=3)

# legend
leg_y = [660, 702, 745, 787, 829]
leg_cols = [(164, 210, 216), (402, 446, 453), (600, 647, 654)]
for j, (k, name) in enumerate(zip(keys, names)):
    r, c = divmod(j, 3)
    x0, x1, xt = leg_cols[c]
    yy = 1 - leg_y[r] / H
    ls = (0, (8, 4.5)) if k in dashed else '-'
    fig.add_artist(Line2D([x0 / W, x1 / W], [yy, yy], transform=fig.transFigure,
                          color=colors[k], lw=1.0, ls=ls))
    fig.text(xt / W, yy, name, color=colors[k], fontsize=13.5, ha='left', va='center')

fig.savefig('out.png', dpi=100)
